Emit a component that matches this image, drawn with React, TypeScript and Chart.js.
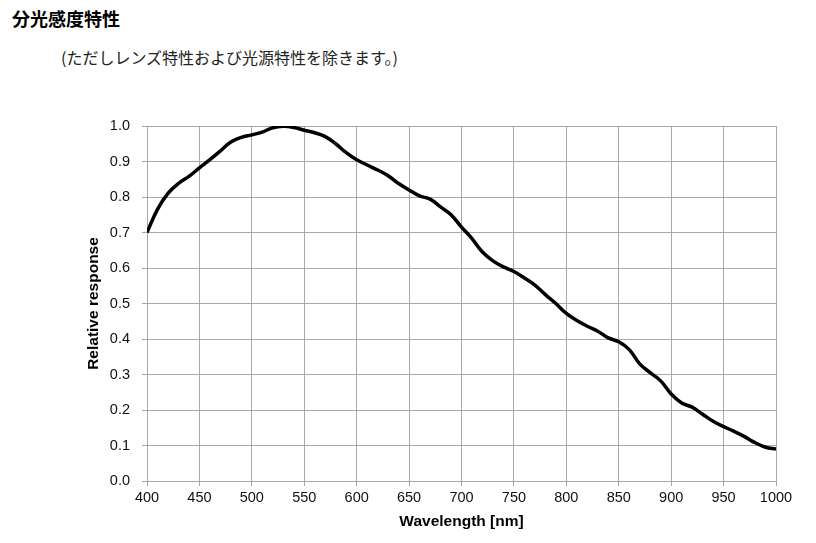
import React, { useEffect, useRef } from "react";
import { Chart, registerables } from "chart.js";

Chart.register(...registerables);

const wavelengths = [
  400, 410, 420, 430, 440, 450, 460, 470, 480, 490, 500, 510, 520, 530, 540, 550,
  560, 570, 580, 590, 600, 610, 620, 630, 640, 650, 660, 670, 680, 690, 700, 710,
  720, 730, 740, 750, 760, 770, 780, 790, 800, 810, 820, 830, 840, 850, 860, 870,
  880, 890, 900, 910, 920, 930, 940, 950, 960, 970, 980, 990, 1000,
];
const response = [
  0.70, 0.765, 0.81, 0.838, 0.858, 0.882, 0.905, 0.93, 0.955, 0.968, 0.975, 0.983,
  0.995, 0.999, 0.996, 0.988, 0.981, 0.97, 0.95, 0.925, 0.905, 0.89, 0.876, 0.86,
  0.838, 0.82, 0.803, 0.794, 0.772, 0.75, 0.715, 0.683, 0.645, 0.62, 0.603, 0.59,
  0.572, 0.552, 0.525, 0.5, 0.472, 0.452, 0.436, 0.422, 0.403, 0.392, 0.37, 0.33,
  0.305, 0.282, 0.245, 0.22, 0.208, 0.188, 0.168, 0.153, 0.14, 0.125, 0.108, 0.095,
  0.09,
];
const titleText = "分光感度特性";
const subtitleText = "(ただしレンズ特性および光源特性を除きます。)";
const xTitle = "Wavelength [nm]";
const yTitle = "Relative response";

export default function App() {
  const ref = useRef<HTMLCanvasElement>(null);
  useEffect(() => {
    const grid = "#a8a8a8";
    const font = { family: "'Liberation Sans', Arial, sans-serif", size: 14.5 };
    const titleFont = { family: "'Liberation Sans', Arial, sans-serif", size: 15.5, weight: "bold" };
    const chart = new Chart(ref.current!, {
      type: "line",
      data: {
        datasets: [
          {
            data: wavelengths.map((w, i) => ({ x: w, y: response[i] })),
            borderColor: "#000",
            borderWidth: 3.5,
            pointRadius: 0,
            tension: 0.4,
            fill: false,
          },
        ],
      },
      options: {
        responsive: false,
        animation: false,
        layout: { padding: { left: 78, top: 126, right: 40, bottom: 10 } },
        plugins: { legend: { display: false }, tooltip: { enabled: false } },
        scales: {
          x: {
            type: "linear",
            min: 400,
            max: 1000,
            afterFit: (s: any) => {
              s.height = 52;
            },
            ticks: {
              stepSize: 50,
              color: "#111",
              font,
              padding: 3,
              maxRotation: 0,
              callback: (v: any) => String(v),
            },
            grid: { color: grid, lineWidth: 1, tickLength: 5 },
            border: { color: grid },
            title: {
              display: true,
              text: xTitle,
              color: "#000",
              font: titleFont,
              padding: { top: 0, bottom: 2 },
            },
          },
          y: {
            min: 0,
            max: 1,
            afterFit: (s: any) => {
              s.width = 69;
            },
            ticks: {
              stepSize: 0.1,
              color: "#111",
              font,
              padding: 12,
              callback: (v: any) => Number(v).toFixed(1),
            },
            grid: { color: grid, lineWidth: 1, tickLength: 5 },
            border: { color: grid },
            title: {
              display: true,
              text: yTitle,
              color: "#000",
              font: titleFont,
              padding: { top: 6, bottom: 0 },
            },
          },
        },
      },
    } as any);
    return () => chart.destroy();
  }, []);
  return (
    <div style={{ position: "absolute", left: 0, top: 0, width: 816, height: 543, background: "#fff" }}>
      <div
        style={{
          position: "absolute",
          left: 12,
          top: 5,
          fontFamily: "'Noto Sans CJK JP', sans-serif",
          fontWeight: "bold",
          fontSize: 18,
          lineHeight: "26px",
          color: "#000",
        }}
      >
        {titleText}
      </div>
      <div
        style={{
          position: "absolute",
          left: 61,
          top: 45,
          fontFamily: "'Noto Sans CJK JP', sans-serif",
          fontWeight: 400,
          fontSize: 16,
          lineHeight: "24px",
          color: "#222",
          whiteSpace: "nowrap",
        }}
      >
        {subtitleText}
      </div>
      <canvas ref={ref} width={816} height={543} style={{ position: "absolute", left: 0, top: 0 }} />
    </div>
  );
}
